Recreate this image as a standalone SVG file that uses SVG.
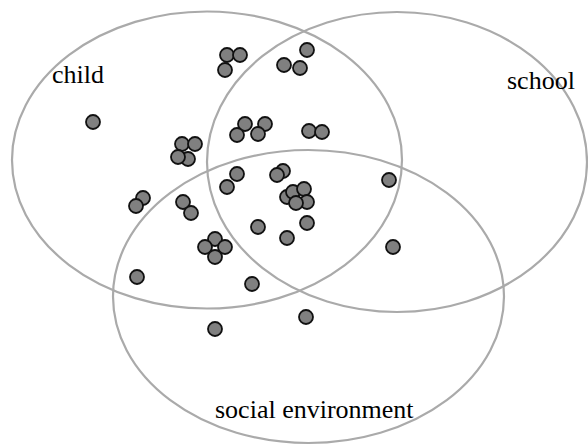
<svg xmlns="http://www.w3.org/2000/svg" width="588" height="445" viewBox="0 0 588 445">
<style>
.set{fill:none;stroke:#aaaaaa;stroke-width:2.2}
.dot{fill:#808080;stroke:#111111;stroke-width:1.8}
.lbl{font-family:"Liberation Serif","Times New Roman",serif;font-size:26px;fill:#000}
</style>
<rect width="588" height="445" fill="#ffffff"/>
<g id="sets">
<g id="set-child"><ellipse class="set" cx="207" cy="160" rx="195" ry="148.5"/><text class="lbl" x="52" y="83">child</text></g>
<g id="set-school"><ellipse class="set" cx="397" cy="162" rx="190" ry="150"/><text class="lbl" x="507" y="89">school</text></g>
<g id="set-social"><ellipse class="set" cx="308.5" cy="296.5" rx="195.5" ry="146.5"/><text class="lbl" x="215" y="418">social environment</text></g>
</g>
<g id="connectors"></g>
<g id="dots">
<circle class="dot" cx="227" cy="55" r="7"/>
<circle class="dot" cx="240" cy="55" r="7"/>
<circle class="dot" cx="225" cy="70" r="7"/>
<circle class="dot" cx="93" cy="122" r="7"/>
<circle class="dot" cx="188" cy="159" r="7"/>
<circle class="dot" cx="182" cy="144" r="7"/>
<circle class="dot" cx="195" cy="144" r="7"/>
<circle class="dot" cx="178" cy="157" r="7"/>
<circle class="dot" cx="143" cy="198" r="7"/>
<circle class="dot" cx="136" cy="206" r="7"/>
<circle class="dot" cx="183" cy="202" r="7"/>
<circle class="dot" cx="191" cy="213" r="7"/>
<circle class="dot" cx="245" cy="124" r="7"/>
<circle class="dot" cx="237" cy="135" r="7"/>
<circle class="dot" cx="265" cy="124" r="7"/>
<circle class="dot" cx="258" cy="134" r="7"/>
<circle class="dot" cx="237" cy="174" r="7"/>
<circle class="dot" cx="227" cy="187" r="7"/>
<circle class="dot" cx="283" cy="171" r="7"/>
<circle class="dot" cx="277" cy="175" r="7"/>
<circle class="dot" cx="307" cy="50" r="7"/>
<circle class="dot" cx="284" cy="65" r="7"/>
<circle class="dot" cx="300" cy="68" r="7"/>
<circle class="dot" cx="309" cy="131" r="7"/>
<circle class="dot" cx="322" cy="132" r="7"/>
<circle class="dot" cx="389" cy="180" r="7"/>
<circle class="dot" cx="393" cy="247" r="7"/>
<circle class="dot" cx="287" cy="197" r="7"/>
<circle class="dot" cx="293" cy="192" r="7"/>
<circle class="dot" cx="304" cy="189" r="7"/>
<circle class="dot" cx="307" cy="202" r="7"/>
<circle class="dot" cx="296" cy="203" r="7"/>
<circle class="dot" cx="307" cy="223" r="7"/>
<circle class="dot" cx="258" cy="227" r="7"/>
<circle class="dot" cx="287" cy="238" r="7"/>
<circle class="dot" cx="215" cy="239" r="7"/>
<circle class="dot" cx="205" cy="247" r="7"/>
<circle class="dot" cx="225" cy="247" r="7"/>
<circle class="dot" cx="215" cy="257" r="7"/>
<circle class="dot" cx="137" cy="277" r="7"/>
<circle class="dot" cx="252" cy="284" r="7"/>
<circle class="dot" cx="215" cy="329" r="7"/>
<circle class="dot" cx="306" cy="317" r="7"/>
</g>
</svg>
